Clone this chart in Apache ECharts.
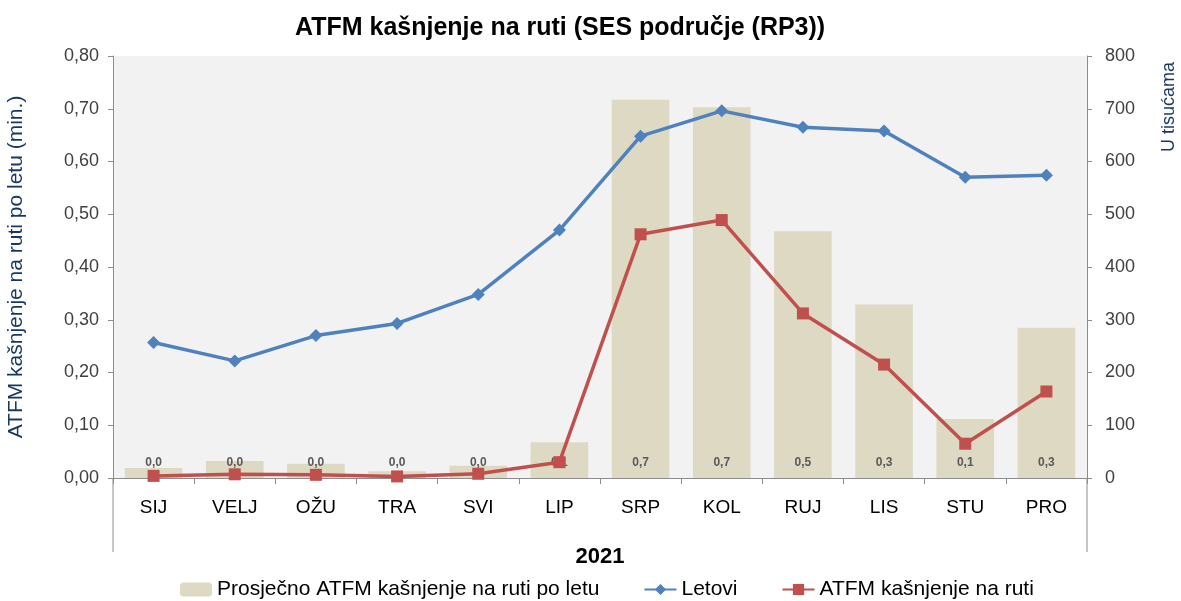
<!DOCTYPE html>
<html>
<head>
<meta charset="utf-8">
<script src="https://cdn.jsdelivr.net/npm/echarts@6/dist/echarts.min.js"></script>
<style>
html,body{margin:0;padding:0;background:#fff;}
#main{width:1181px;height:601px;}
</style>
</head>
<body>
<div id="main"></div>
<script>
var months = ['SIJ', 'VELJ', 'OŽU', 'TRA', 'SVI', 'LIP', 'SRP', 'KOL', 'RUJ', 'LIS', 'STU', 'PRO'];
// prosječno kašnjenje po letu (min.)
var avgDelay = [0.019, 0.032, 0.027, 0.013, 0.023, 0.068, 0.717, 0.703, 0.468, 0.329, 0.112, 0.285];
// letovi (u tisućama)
var flights = [257, 222, 270, 293, 348, 470, 648, 696, 665, 658, 570, 574];
// ATFM kašnjenje na ruti (u tisućama minuta)
var delay = [4, 7, 6, 3, 8, 30, 462, 489, 312, 215, 65, 164];

var font = 'Liberation Sans';
var myChart = echarts.init(document.getElementById('main'));
var option = {
	backgroundColor: '#fff',
	textStyle: { fontFamily: font },
	title: {
		text: 'ATFM kašnjenje na ruti (SES područje (RP3))',
		left: 290,
		top: 11,
		textStyle: { fontSize: 25, fontWeight: 'bold', color: '#000', fontFamily: font }
	},
	legend: {
		top: 574,
		left: 175,
		itemGap: 44,
		itemWidth: 32,
		itemHeight: 14,
		textStyle: { fontSize: 21, color: '#000' },
		data: ['Prosječno ATFM kašnjenje na ruti po letu', 'Letovi', 'ATFM kašnjenje na ruti']
	},
	grid: {
		left: 113,
		right: 94,
		top: 56,
		bottom: 123,
		outerBoundsMode: 'none',
		show: true,
		backgroundColor: '#f2f2f2',
		borderWidth: 0
	},
	xAxis: {
		type: 'category',
		data: months,
		name: '2021',
		nameLocation: 'middle',
		nameGap: 68,
		nameTextStyle: { fontSize: 22, fontWeight: 'bold', color: '#000' },
		axisLine: { lineStyle: { color: '#8c8c8c' } },
		axisTick: { show: true, length: 6, lineStyle: { color: '#8c8c8c' } },
		axisLabel: { fontSize: 19, color: '#000', margin: 20 }
	},
	yAxis: [{
		type: 'value',
		min: 0,
		max: 0.8,
		interval: 0.1,
		name: 'ATFM kašnjenje na ruti po letu (min.)',
		nameLocation: 'middle',
		nameGap: 86,
		nameTextStyle: { fontSize: 21, color: '#17375e' },
		axisLine: { show: true, lineStyle: { color: '#8c8c8c' } },
		axisTick: { show: true, length: 5, lineStyle: { color: '#8c8c8c' } },
		splitLine: { show: false },
		axisLabel: {
			fontSize: 18, color: '#404040', margin: 14,
			formatter: function (v) { return v.toFixed(2).replace('.', ','); }
		}
	}, {
		type: 'value',
		min: 0,
		max: 800,
		interval: 100,
		axisLine: { show: true, lineStyle: { color: '#8c8c8c' } },
		axisTick: { show: true, length: 5, lineStyle: { color: '#8c8c8c' } },
		splitLine: { show: false },
		axisLabel: { fontSize: 18, color: '#404040', margin: 18 }
	}],
	series: [{
		name: 'Prosječno ATFM kašnjenje na ruti po letu',
		type: 'bar',
		yAxisIndex: 0,
		barWidth: '71%',
		itemStyle: { color: '#ddd9c3' },
		label: {
			show: true,
			position: 'insideBottom',
			distance: 9,
			fontSize: 12,
			fontWeight: 'bold',
			color: '#595959',
			formatter: function (p) { return p.value.toFixed(1).replace('.', ','); }
		},
		data: avgDelay
	}, {
		name: 'Letovi',
		type: 'line',
		yAxisIndex: 1,
		symbol: 'diamond',
		symbolSize: 13,
		lineStyle: { width: 3.5, color: '#4f81bd' },
		itemStyle: { color: '#4f81bd' },
		data: flights
	}, {
		name: 'ATFM kašnjenje na ruti',
		type: 'line',
		yAxisIndex: 1,
		symbol: 'rect',
		symbolSize: 12,
		lineStyle: { width: 3.5, color: '#c0504d' },
		itemStyle: { color: '#c0504d' },
		data: delay
	}],
	graphic: [{
		type: 'text',
		x: 1160,
		y: 62,
		rotation: Math.PI / 2,
		style: {
			text: 'U tisućama',
			font: '18px "Liberation Sans"',
			fill: '#17375e',
			align: 'right',
			verticalAlign: 'top'
		}
	}, {
		type: 'line',
		shape: { x1: 113, y1: 478, x2: 113, y2: 552 },
		style: { stroke: '#8c8c8c', lineWidth: 1 }
	}, {
		type: 'line',
		shape: { x1: 1087, y1: 478, x2: 1087, y2: 552 },
		style: { stroke: '#8c8c8c', lineWidth: 1 }
	}]
};
myChart.setOption(option);
</script>
</body>
</html>
